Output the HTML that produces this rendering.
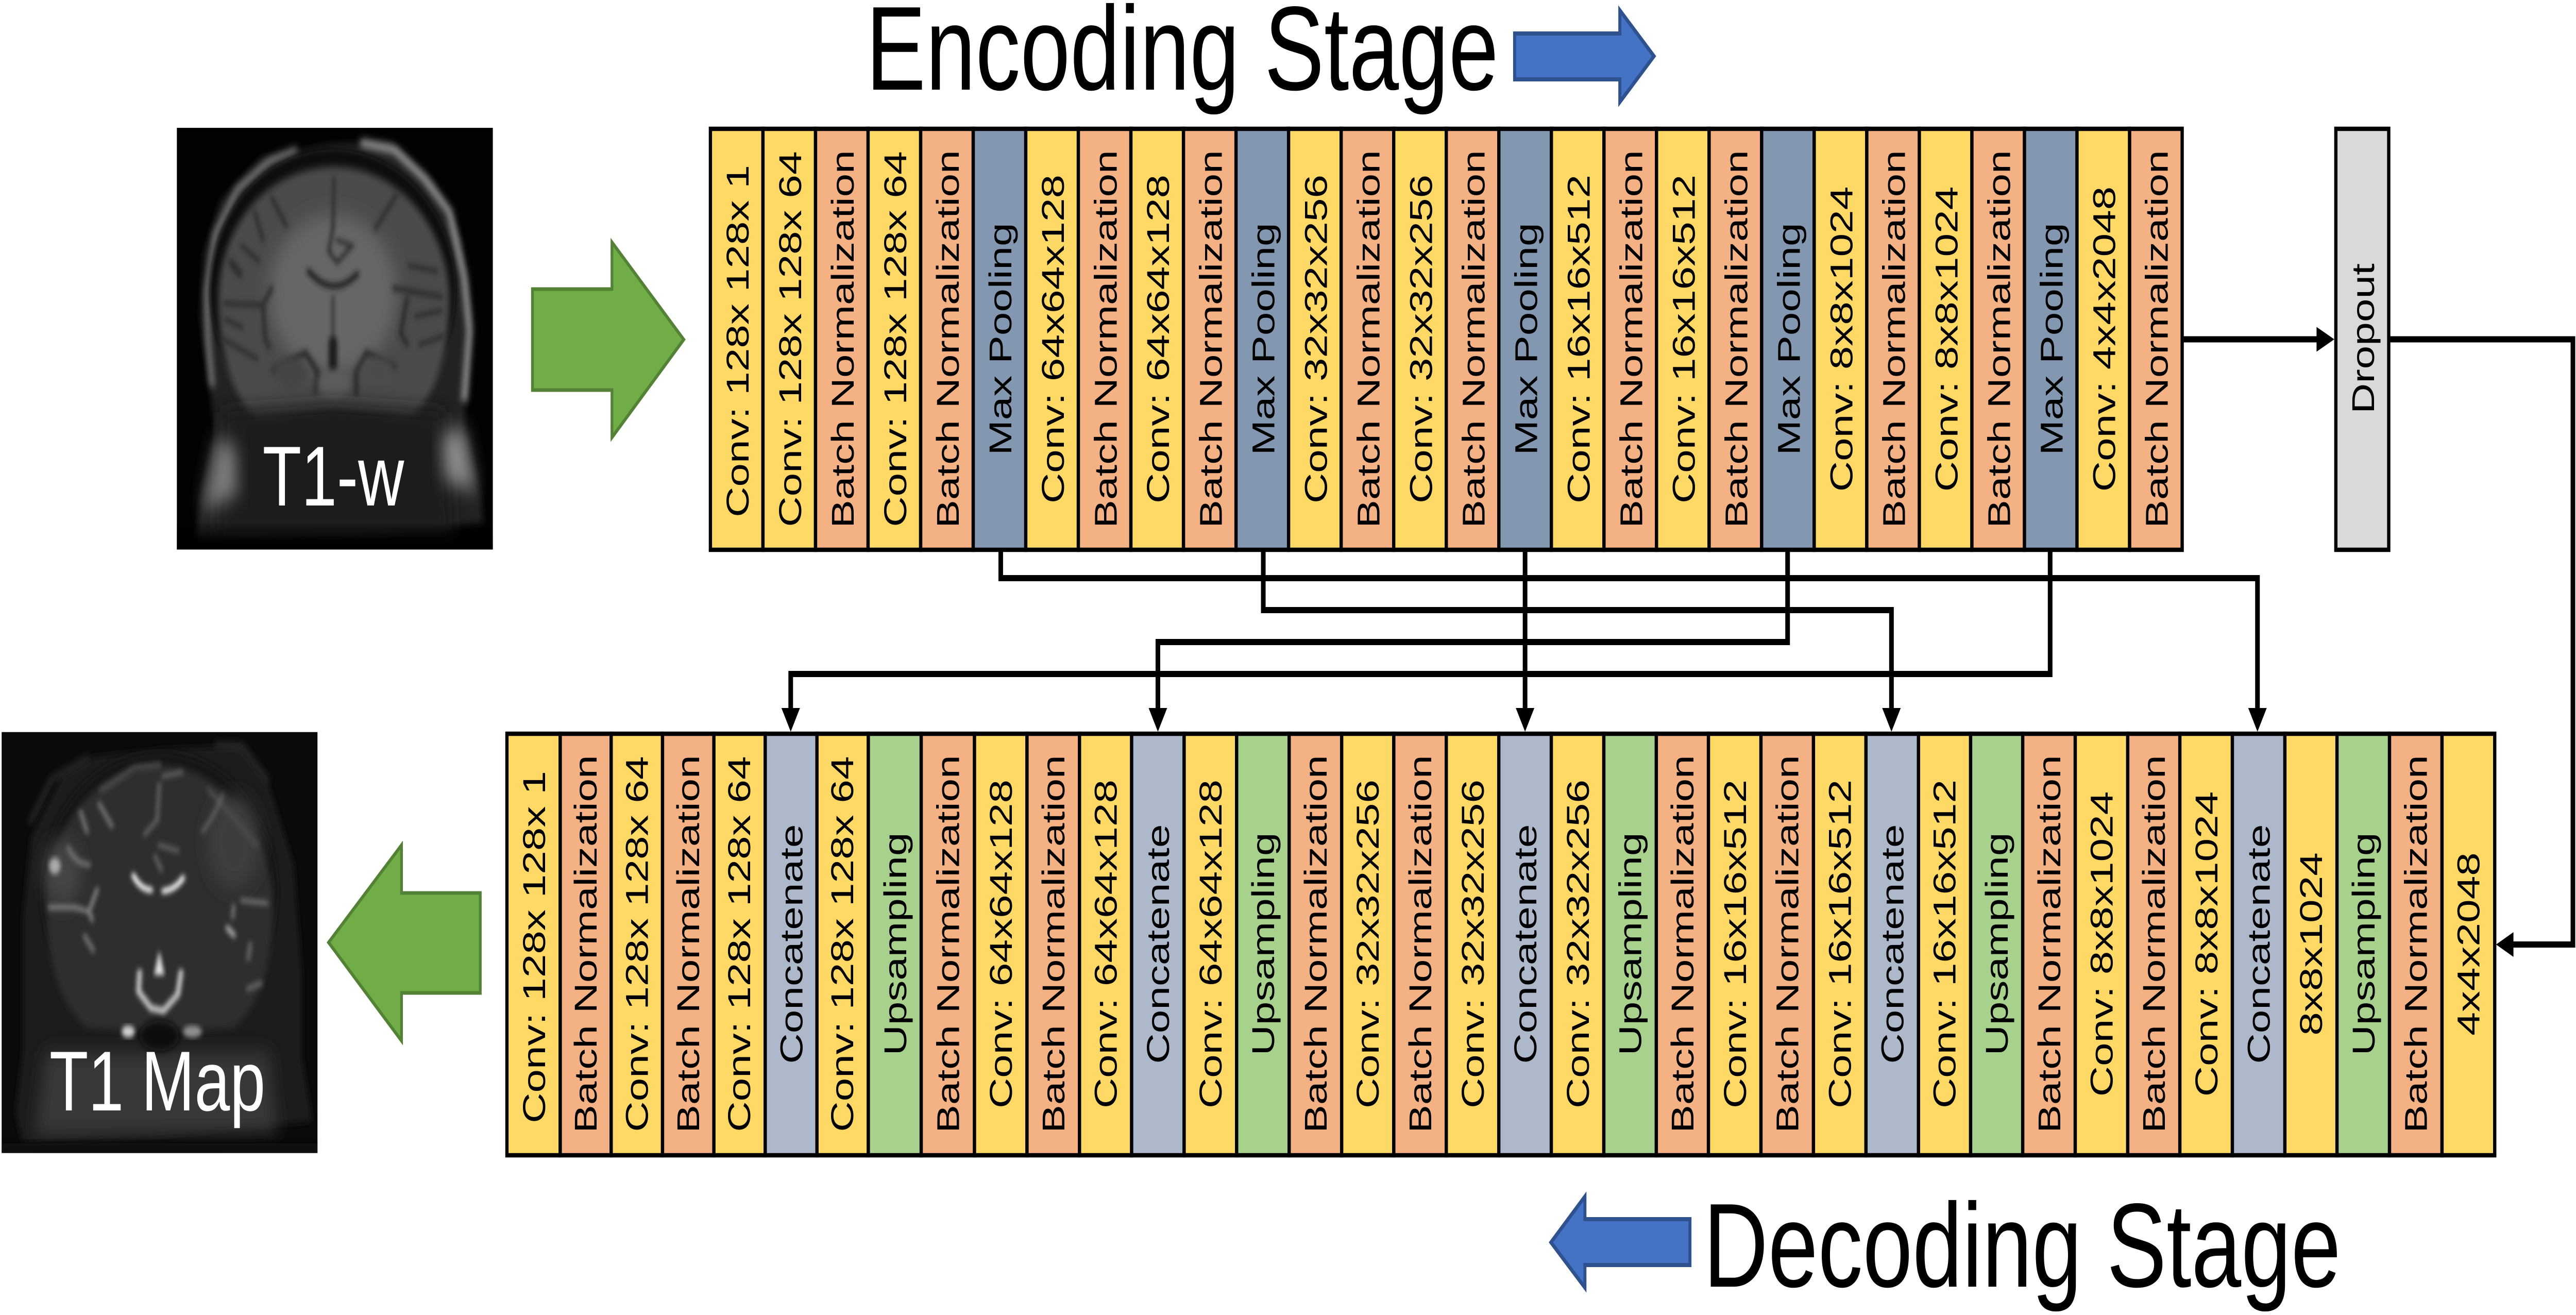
<!DOCTYPE html>
<html><head><meta charset="utf-8"><meta name="viewport" content="width=6672"><title>Encoder-decoder architecture</title>
<style>
html,body{margin:0;padding:0;background:#fff;width:100%;height:100%;overflow:hidden}
svg{display:block;width:100%;height:100%}
text{font-family:"Liberation Sans",Arial,sans-serif}
.l text{font-size:82px;text-anchor:middle;fill:#000}
.r rect{stroke:#000;stroke-width:8.5}
.c{fill:#FFD966}.b{fill:#F4B183}.m{fill:#8497B0}.k{fill:#ADB9CA}.u{fill:#A9D18E}.d{fill:#D9D9D9}
.w{stroke:#000;stroke-width:12;fill:none;stroke-linejoin:miter}
.t{font-size:232px;fill:#000}
.o{font-size:165px;fill:#fff}
</style></head><body>
<svg xmlns="http://www.w3.org/2000/svg" viewBox="0 0 6672 2552" preserveAspectRatio="none">
<defs>
<filter id="b4" x="-20%" y="-20%" width="140%" height="140%"><feGaussianBlur stdDeviation="10"/></filter>
<filter id="b10" x="-20%" y="-20%" width="140%" height="140%"><feGaussianBlur stdDeviation="14"/></filter>
<filter id="b30" x="-30%" y="-30%" width="160%" height="160%"><feGaussianBlur stdDeviation="35"/></filter>
<clipPath id="c1"><rect x="33" y="33" width="1492" height="1492"/></clipPath>
<clipPath id="c2"><rect x="8" y="20" width="1527" height="1525"/></clipPath>
</defs>
<rect width="6672" height="2552" fill="#fff"/>

<!-- T1-w image -->
<g transform="translate(440,230) scale(0.5485)">
<rect x="33" y="33" width="1492" height="1492" fill="#020202"/>
<g clip-path="url(#c1)">
<path filter="url(#b10)" fill="#232323" d="M130,1440 L150,1320 L215,1120 L190,950 L145,700 L160,480 L240,290 L430,140 L770,90 L1040,85 L1240,220 L1370,420 L1420,700 L1400,950 L1390,1090 L1470,1340 L1480,1430 L1000,1470 L130,1490 Z"/>
<path filter="url(#b10)" fill="none" stroke="#8c8c8c" stroke-width="20" d="M200,950 L180,780 L175,610 L215,410 L320,250 L470,150 L600,110"/>
<path filter="url(#b10)" fill="none" stroke="#a0a0a0" stroke-width="26" d="M900,85 L1060,110 L1200,210 L1320,330 L1390,560 L1415,750 L1390,1000"/>
<ellipse filter="url(#b4)" cx="770" cy="610" rx="580" ry="500" fill="#0c0c0c"/>
<path filter="url(#b10)" fill="#4c4c4c" d="M230,640 C230,400 430,180 770,170 C1090,170 1320,400 1320,640 C1320,800 1270,980 1130,1060 L770,1040 L420,1070 C280,980 230,800 230,640 Z"/>
<ellipse filter="url(#b30)" cx="770" cy="620" rx="300" ry="280" fill="#666"/>
<g filter="url(#b4)" fill="none" stroke="#2e2e2e" stroke-linecap="round">
<path stroke-width="20" stroke="#1c1c1c" d="M655,540 Q770,640 885,550"/>
<path stroke-width="16" d="M775,210 L770,390 L750,470 L790,510 L860,450 L790,430"/>
<path stroke-width="12" d="M770,630 L770,780"/>
<path stroke-width="40" stroke="#1c1c1c" d="M770,790 L770,880"/>
<path stroke-width="30" d="M290,510 L330,550"/>
<path stroke-width="18" d="M480,280 L550,380 M400,330 L440,430 M340,450 L420,505"/>
<path stroke-width="20" d="M260,655 L440,660 L480,600 M440,660 L450,780 L470,810"/>
<path stroke-width="18" d="M250,780 L410,850 M260,710 L340,740"/>
<path stroke-width="18" d="M1070,270 L970,390 M1130,520 L1260,540"/>
<path stroke-width="22" d="M1060,600 L1280,630 M1120,640 L1090,760 L1120,800"/>
<path stroke-width="18" d="M1180,800 L1290,770 M1160,700 L1280,680"/>
<path stroke-width="26" d="M490,890 L640,830 L700,900 L690,960 M1060,880 L930,830 L880,900 L880,970"/>
</g>
<ellipse filter="url(#b10)" cx="775" cy="940" rx="75" ry="50" fill="#5c5c5c"/>
<ellipse filter="url(#b10)" cx="570" cy="900" rx="80" ry="55" fill="#444"/>
<ellipse filter="url(#b10)" cx="980" cy="900" rx="80" ry="55" fill="#4c4c4c"/>
<path filter="url(#b30)" fill="#1c1c1c" d="M240,1040 L770,1010 L1300,1040 L1340,1480 L220,1480 Z"/>
<path filter="url(#b30)" fill="#7c7c7c" d="M155,1390 L225,1130 L310,1160 L320,1330 Z"/>
<path filter="url(#b30)" fill="#8c8c8c" d="M1285,1120 L1385,1090 L1445,1320 L1300,1280 Z"/>
<rect filter="url(#b30)" x="0" y="1470" width="1560" height="120" fill="#000"/>
</g>
</g>
<text class="o" x="680" y="981">T1-w</text>

<!-- T1 map image -->
<g transform="translate(0,1410) scale(0.5357)">
<rect x="8" y="20" width="1527" height="1525" fill="#0a0a0a"/>
<g clip-path="url(#c2)">
<path filter="url(#b10)" fill="#1c1c1c" d="M75,1400 L110,1180 L110,700 L150,400 L300,180 L450,110 L800,80 L1160,70 L1300,210 L1420,500 L1460,900 L1460,1200 L1510,1430 L800,1480 L110,1510 Z"/>
<path filter="url(#b10)" fill="none" stroke="#3a3a3a" stroke-width="14" d="M145,350 L250,190 L430,110 M1040,65 L1170,70 L1300,200"/>
<ellipse filter="url(#b10)" cx="770" cy="600" rx="570" ry="510" fill="#161616"/>
<path filter="url(#b10)" fill="#2f2f2f" d="M225,640 C225,400 430,150 770,140 C1080,140 1320,400 1320,650 C1320,840 1270,1000 1130,1090 L770,1110 L420,1090 C280,1000 225,840 225,640 Z"/>
<ellipse filter="url(#b30)" cx="1130" cy="420" rx="130" ry="170" fill="#3c3c3c"/>
<ellipse filter="url(#b30)" cx="300" cy="530" rx="90" ry="120" fill="#444"/>
<path filter="url(#b30)" fill="#383838" d="M220,1180 L1300,1180 L1340,1470 L170,1480 Z"/>
<g filter="url(#b4)" fill="none" stroke="#8a8a8a" stroke-linecap="round">
<path stroke="#4a4a4a" stroke-width="22" d="M490,230 L650,150 L770,140 M1010,230 L1130,330 L1240,430"/>
<path stroke="#fff" stroke-width="20" d="M645,540 Q680,590 730,592 M790,596 Q850,590 885,548"/>
<path stroke="#707070" stroke-width="20" d="M390,310 L420,380 M480,280 L540,360 M330,440 Q370,500 430,500"/>
<path stroke="#606060" stroke-width="18" d="M790,180 L880,165 M770,210 L760,340 L700,390 M750,470 L780,520 M770,430 L860,450"/>
<path stroke="#606060" stroke-width="16" d="M1075,250 Q1040,320 980,380"/>
<path stroke="#808080" stroke-width="18" d="M240,655 L360,655 L430,670 L445,700 M430,670 L470,590"/>
<path stroke="#707070" stroke-width="20" d="M410,760 L450,810"/>
<path stroke="#707070" stroke-width="18" d="M1170,630 L1290,640 M1130,650 L1125,690"/>
<path stroke="#a0a0a0" stroke-width="22" d="M1100,730 L1130,755"/>
<path stroke="#606060" stroke-width="22" d="M1210,790 L1200,840 M1200,950 L1260,930"/>
<path stroke="#c4c4c4" stroke-width="24" d="M675,890 L670,960 L730,1020 L790,1030 L860,970 L875,890"/>
</g>
<path filter="url(#b4)" fill="#e4e4e4" d="M770,810 L795,900 L745,900 Z"/>
<ellipse filter="url(#b4)" cx="265" cy="505" rx="28" ry="30" fill="#aaa"/>
<ellipse filter="url(#b4)" cx="620" cy="1105" rx="32" ry="22" fill="#d0d0d0"/>
<ellipse filter="url(#b4)" cx="930" cy="1105" rx="46" ry="22" fill="#909090"/>
<ellipse filter="url(#b10)" cx="770" cy="1120" rx="95" ry="55" fill="#0e0e0e"/>
<rect filter="url(#b10)" x="8" y="1510" width="1527" height="80" fill="#0a0a0a"/>
</g>
</g>
<text class="o" x="128" y="2155">T1 Map</text>

<!-- Titles -->
<text class="t" x="2243" y="174">Encoding Stage</text>
<text class="t" x="4412" y="2497">Decoding Stage</text>

<!-- Green arrows -->
<polygon points="1379,561 1585,561 1585,470 1771,659 1585,849 1585,757 1379,757" fill="#70AD47" stroke="#538135" stroke-width="7"/>
<polygon points="851,1829 1040,1640 1040,1733 1244,1733 1244,1927 1040,1927 1040,2020" fill="#70AD47" stroke="#538135" stroke-width="7"/>

<!-- Blue arrows -->
<polygon points="3923,65 4195.5,65 4195.5,20 4284,109 4195.5,198 4195.5,154 3923,154" fill="#4472C4" stroke="#2F528F" stroke-width="8"/>
<polygon points="4017,2411 4105,2322 4105,2366 4377,2366 4377,2455 4105,2455 4105,2499" fill="#4472C4" stroke="#2F528F" stroke-width="8"/>

<!-- Connectors -->
<path class="w" d="M2592,1071 V1122 H5847 V1378"/>
<path class="w" d="M3272,1071 V1184 H4899 V1378"/>
<path class="w" d="M3950,1071 V1378"/>
<path class="w" d="M4630,1071 V1246 H2999 V1378"/>
<path class="w" d="M5310,1071 V1308 H2048 V1378"/>
<path class="w" d="M5656,658.5 H6005"/>
<path class="w" d="M6191,658.5 H6664 V1833 H6505"/>
<polygon points="2024,1374 2072,1374 2048,1420"/>
<polygon points="2975,1374 3023,1374 2999,1420"/>
<polygon points="3926,1374 3974,1374 3950,1420"/>
<polygon points="4875,1374 4923,1374 4899,1420"/>
<polygon points="5823,1374 5871,1374 5847,1420"/>
<polygon points="6000,634.5 6000,682.5 6046,658.5"/>
<polygon points="6510,1809 6510,1857 6465,1833"/>

<!-- Top strip -->
<g class="r">
<rect class="c" x="1840" y="250" width="136.14" height="817"/>
<rect class="c" x="1976.1" y="250" width="136.14" height="817"/>
<rect class="b" x="2112.3" y="250" width="136.14" height="817"/>
<rect class="c" x="2248.4" y="250" width="136.14" height="817"/>
<rect class="b" x="2384.6" y="250" width="136.14" height="817"/>
<rect class="m" x="2520.7" y="250" width="136.14" height="817"/>
<rect class="c" x="2656.8" y="250" width="136.14" height="817"/>
<rect class="b" x="2793" y="250" width="136.14" height="817"/>
<rect class="c" x="2929.1" y="250" width="136.14" height="817"/>
<rect class="b" x="3065.3" y="250" width="136.14" height="817"/>
<rect class="m" x="3201.4" y="250" width="136.14" height="817"/>
<rect class="c" x="3337.5" y="250" width="136.14" height="817"/>
<rect class="b" x="3473.7" y="250" width="136.14" height="817"/>
<rect class="c" x="3609.8" y="250" width="136.14" height="817"/>
<rect class="b" x="3746" y="250" width="136.14" height="817"/>
<rect class="m" x="3882.1" y="250" width="136.14" height="817"/>
<rect class="c" x="4018.2" y="250" width="136.14" height="817"/>
<rect class="b" x="4154.4" y="250" width="136.14" height="817"/>
<rect class="c" x="4290.5" y="250" width="136.14" height="817"/>
<rect class="b" x="4426.7" y="250" width="136.14" height="817"/>
<rect class="m" x="4562.8" y="250" width="136.14" height="817"/>
<rect class="c" x="4698.9" y="250" width="136.14" height="817"/>
<rect class="b" x="4835.1" y="250" width="136.14" height="817"/>
<rect class="c" x="4971.2" y="250" width="136.14" height="817"/>
<rect class="b" x="5107.4" y="250" width="136.14" height="817"/>
<rect class="m" x="5243.5" y="250" width="136.14" height="817"/>
<rect class="c" x="5379.6" y="250" width="136.14" height="817"/>
<rect class="b" x="5515.8" y="250" width="136.14" height="817"/>
<rect class="d" x="6050" y="250" width="137" height="817"/>
</g>
<g class="l" transform="translate(2,0)">
<text transform="translate(1937,662) rotate(-90)">Conv: 128x 128x 1</text>
<text transform="translate(2073,658) rotate(-90)">Conv: 128x 128x 64</text>
<text transform="translate(2209,658) rotate(-90)">Batch Normalization</text>
<text transform="translate(2345.4,658) rotate(-90)">Conv: 128x 128x 64</text>
<text transform="translate(2481.6,658) rotate(-90)">Batch Normalization</text>
<text transform="translate(2617.7,658) rotate(-90)">Max Pooling</text>
<text transform="translate(2753.8,658) rotate(-90)">Conv: 64x64x128</text>
<text transform="translate(2890,658) rotate(-90)">Batch Normalization</text>
<text transform="translate(3026,658) rotate(-90)">Conv: 64x64x128</text>
<text transform="translate(3162.3,658) rotate(-90)">Batch Normalization</text>
<text transform="translate(3298.4,658) rotate(-90)">Max Pooling</text>
<text transform="translate(3434.5,658) rotate(-90)">Conv: 32x32x256</text>
<text transform="translate(3570.7,658) rotate(-90)">Batch Normalization</text>
<text transform="translate(3706.8,658) rotate(-90)">Conv: 32x32x256</text>
<text transform="translate(3843,658) rotate(-90)">Batch Normalization</text>
<text transform="translate(3979,658) rotate(-90)">Max Pooling</text>
<text transform="translate(4115.2,658) rotate(-90)">Conv: 16x16x512</text>
<text transform="translate(4251.4,658) rotate(-90)">Batch Normalization</text>
<text transform="translate(4387.5,658) rotate(-90)">Conv: 16x16x512</text>
<text transform="translate(4523.7,658) rotate(-90)">Batch Normalization</text>
<text transform="translate(4659.8,658) rotate(-90)">Max Pooling</text>
<text transform="translate(4796,658) rotate(-90)">Conv: 8x8x1024</text>
<text transform="translate(4932,658) rotate(-90)">Batch Normalization</text>
<text transform="translate(5068,658) rotate(-90)">Conv: 8x8x1024</text>
<text transform="translate(5204.4,658) rotate(-90)">Batch Normalization</text>
<text transform="translate(5340.5,658) rotate(-90)">Max Pooling</text>
<text transform="translate(5476.6,658) rotate(-90)">Conv: 4x4x2048</text>
<text transform="translate(5612.8,658) rotate(-90)">Batch Normalization</text>
<text transform="translate(6147,657) rotate(-90)">Dropout</text>
</g>

<!-- Bottom strip -->
<g class="r">
<rect class="c" x="1313" y="1424" width="138" height="818"/>
<rect class="b" x="1451" y="1424" width="132" height="818"/>
<rect class="c" x="1583" y="1424" width="133" height="818"/>
<rect class="b" x="1716" y="1424" width="133" height="818"/>
<rect class="c" x="1849" y="1424" width="133" height="818"/>
<rect class="k" x="1982" y="1424" width="134" height="818"/>
<rect class="c" x="2116" y="1424" width="133" height="818"/>
<rect class="u" x="2249" y="1424" width="137" height="818"/>
<rect class="b" x="2386" y="1424" width="138" height="818"/>
<rect class="c" x="2524" y="1424" width="136" height="818"/>
<rect class="b" x="2660" y="1424" width="136" height="818"/>
<rect class="c" x="2796" y="1424" width="135" height="818"/>
<rect class="k" x="2931" y="1424" width="136" height="818"/>
<rect class="c" x="3067" y="1424" width="136" height="818"/>
<rect class="u" x="3203" y="1424" width="136" height="818"/>
<rect class="b" x="3339" y="1424" width="136" height="818"/>
<rect class="c" x="3475" y="1424" width="135" height="818"/>
<rect class="b" x="3610" y="1424" width="136" height="818"/>
<rect class="c" x="3746" y="1424" width="136" height="818"/>
<rect class="k" x="3882" y="1424" width="136" height="818"/>
<rect class="c" x="4018" y="1424" width="136" height="818"/>
<rect class="u" x="4154" y="1424" width="136" height="818"/>
<rect class="b" x="4290" y="1424" width="135" height="818"/>
<rect class="c" x="4425" y="1424" width="136" height="818"/>
<rect class="b" x="4561" y="1424" width="136" height="818"/>
<rect class="c" x="4697" y="1424" width="136" height="818"/>
<rect class="k" x="4833" y="1424" width="136" height="818"/>
<rect class="c" x="4969" y="1424" width="135" height="818"/>
<rect class="u" x="5104" y="1424" width="135" height="818"/>
<rect class="b" x="5239" y="1424" width="136" height="818"/>
<rect class="c" x="5375" y="1424" width="136" height="818"/>
<rect class="b" x="5511" y="1424" width="135" height="818"/>
<rect class="c" x="5646" y="1424" width="136" height="818"/>
<rect class="k" x="5782" y="1424" width="136" height="818"/>
<rect class="c" x="5918" y="1424" width="135" height="818"/>
<rect class="u" x="6053" y="1424" width="136" height="818"/>
<rect class="b" x="6189" y="1424" width="136" height="818"/>
<rect class="c" x="6325" y="1424" width="136.5" height="818"/>
</g>
<g class="l">
<text transform="translate(1412,1838) rotate(-90)">Conv: 128x 128x 1</text>
<text transform="translate(1545,1832) rotate(-90)">Batch Normalization</text>
<text transform="translate(1678,1832) rotate(-90)">Conv: 128x 128x 64</text>
<text transform="translate(1811,1832) rotate(-90)">Batch Normalization</text>
<text transform="translate(1943,1832) rotate(-90)">Conv: 128x 128x 64</text>
<text transform="translate(2078,1832) rotate(-90)">Concatenate</text>
<text transform="translate(2210,1832) rotate(-90)">Conv: 128x 128x 64</text>
<text transform="translate(2347,1832) rotate(-90)">Upsampling</text>
<text transform="translate(2484,1832) rotate(-90)">Batch Normalization</text>
<text transform="translate(2621,1832) rotate(-90)">Conv: 64x64x128</text>
<text transform="translate(2757,1832) rotate(-90)">Batch Normalization</text>
<text transform="translate(2892,1832) rotate(-90)">Conv: 64x64x128</text>
<text transform="translate(3028,1832) rotate(-90)">Concatenate</text>
<text transform="translate(3164,1832) rotate(-90)">Conv: 64x64x128</text>
<text transform="translate(3300,1832) rotate(-90)">Upsampling</text>
<text transform="translate(3436,1832) rotate(-90)">Batch Normalization</text>
<text transform="translate(3571,1832) rotate(-90)">Conv: 32x32x256</text>
<text transform="translate(3707,1832) rotate(-90)">Batch Normalization</text>
<text transform="translate(3843,1832) rotate(-90)">Conv: 32x32x256</text>
<text transform="translate(3979,1832) rotate(-90)">Concatenate</text>
<text transform="translate(4115,1832) rotate(-90)">Conv: 32x32x256</text>
<text transform="translate(4251,1832) rotate(-90)">Upsampling</text>
<text transform="translate(4386,1832) rotate(-90)">Batch Normalization</text>
<text transform="translate(4522,1832) rotate(-90)">Conv: 16x16x512</text>
<text transform="translate(4658,1832) rotate(-90)">Batch Normalization</text>
<text transform="translate(4794,1832) rotate(-90)">Conv: 16x16x512</text>
<text transform="translate(4930,1832) rotate(-90)">Concatenate</text>
<text transform="translate(5065,1832) rotate(-90)">Conv: 16x16x512</text>
<text transform="translate(5200,1832) rotate(-90)">Upsampling</text>
<text transform="translate(5336,1832) rotate(-90)">Batch Normalization</text>
<text transform="translate(5472,1832) rotate(-90)">Conv: 8x8x1024</text>
<text transform="translate(5607,1832) rotate(-90)">Batch Normalization</text>
<text transform="translate(5743,1832) rotate(-90)">Conv: 8x8x1024</text>
<text transform="translate(5879,1832) rotate(-90)">Concatenate</text>
<text transform="translate(6014,1832) rotate(-90)">8x8x1024</text>
<text transform="translate(6150,1832) rotate(-90)">Upsampling</text>
<text transform="translate(6286,1832) rotate(-90)">Batch Normalization</text>
<text transform="translate(6422,1832) rotate(-90)">4x4x2048</text>
</g>
</svg>
</body></html>
